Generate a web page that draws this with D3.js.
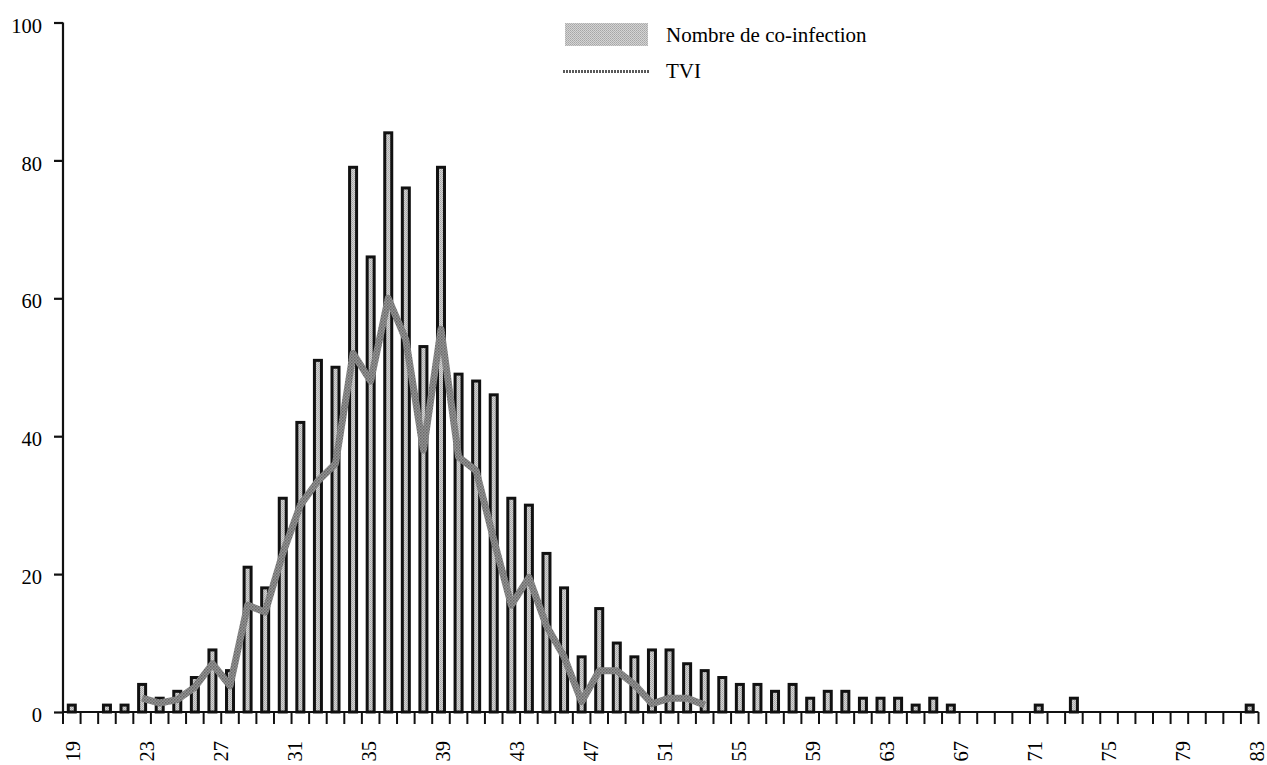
<!DOCTYPE html>
<html>
<head>
<meta charset="utf-8">
<script src="https://cdn.jsdelivr.net/npm/d3@7"></script>
<style>
  html, body { margin: 0; padding: 0; background: #fff; }
  svg { display: block; }
  text { font-family: "Liberation Serif", "DejaVu Serif", serif; fill: #000; }
</style>
</head>
<body>
<svg id="chart" width="1267" height="765"></svg>
<script>
// ---- data ----
const categories = [19,20,21,22,23,24,25,26,27,28,29,30,31,32,33,34,35,36,37,38,39,40,41,42,43,44,45,46,47,48,49,50,51,52,53,54,55,56,57,58,59,60,61,62,63,64,65,66,67,68,69,70,71,72,73,74,75,76,77,78,79,80,81,82,83,84,85,86];
const coinfection = [1,0,1,1,4,2,3,5,9,6,21,18,31,42,51,50,79,66,84,76,53,79,49,48,46,31,30,23,18,8,15,10,8,9,9,7,6,5,4,4,3,4,2,3,3,2,2,2,1,2,1,0,0,0,0,1,0,2,0,0,0,0,0,0,0,0,0,1];
const tviCategories = [23,24,25,26,27,28,29,30,31,32,33,34,35,36,37,38,39,40,41,42,43,44,45,46,47,48,49,50,51,52,53,54,55];
const tvi = [2,1.3,1.8,3.6,7,3.8,15.5,14.5,23,30,33.5,36,52,48,60,54,38,55.5,37,35,25,15.5,19.5,12.5,8,1.5,6,6,4,1.2,2,2,1];
const xTickLabels = ["19","23","27","31","35","39","43","47","51","55","59","63","67","71","75","79","83"];
const yTicks = [0,20,40,60,80,100];
const seriesNames = ["Nombre de co-infection","TVI"];

// ---- setup ----
const svg = d3.select("#chart");
const defs = svg.append("defs");

const barPat = defs.append("pattern").attr("id","barPat")
  .attr("width",2).attr("height",2).attr("patternUnits","userSpaceOnUse");
barPat.append("rect").attr("width",2).attr("height",2).attr("fill","#d4d4d4");
barPat.append("rect").attr("width",1).attr("height",1).attr("fill","#a6a6a6");
barPat.append("rect").attr("x",1).attr("y",1).attr("width",1).attr("height",1).attr("fill","#b2b2b2");

const linePat = defs.append("pattern").attr("id","linePat")
  .attr("width",3).attr("height",3).attr("patternUnits","userSpaceOnUse");
linePat.append("rect").attr("width",3).attr("height",3).attr("fill","#959595");
linePat.append("rect").attr("width",1.5).attr("height",1.5).attr("fill","#666");
linePat.append("rect").attr("x",1.5).attr("y",1.5).attr("width",1.5).attr("height",1.5).attr("fill","#747474");

const x = d3.scaleBand().domain(categories).range([63, 1258.5]).paddingInner(0).paddingOuter(0);
const xLab = d3.scalePoint().domain(xTickLabels).range([72, 1256]);
const y = d3.scaleLinear().domain([0,100]).range([712, 22.5]);
const barW = 7;

// bars
svg.append("g").selectAll("rect").data(coinfection.map((v,i)=>({c:categories[i],v})).filter(d=>d.v>0))
  .join("rect")
  .attr("x", d => x(d.c) + x.bandwidth()/2 - barW/2)
  .attr("y", d => y(d.v))
  .attr("width", barW)
  .attr("height", d => y(0) - y(d.v))
  .attr("fill","url(#barPat)")
  .attr("stroke","#111")
  .attr("stroke-width",3);

// TVI line
const line = d3.line()
  .x((d,i) => x(tviCategories[i]) + x.bandwidth()/2)
  .y(d => y(d));
svg.append("path").datum(tvi)
  .attr("d", line)
  .attr("fill","none")
  .attr("stroke","url(#linePat)")
  .attr("stroke-width",7)
  .attr("stroke-linejoin","round");

// y axis
const yAxis = d3.axisLeft(y).tickValues(yTicks).tickSize(9).tickPadding(12).tickFormat(d3.format("d"));
const gy = svg.append("g").attr("transform","translate(63,0)").call(yAxis);
gy.select(".domain").attr("stroke","#111").attr("stroke-width",2.2).attr("d","M0,22.5V712");
gy.selectAll(".tick line").attr("stroke","#111").attr("stroke-width",2.2);
gy.selectAll(".tick text").attr("font-size",20.5).attr("dy","0.47em")
  .style("font-family","'Liberation Serif', serif").attr("fill","#000");

// x axis: ticks at band boundaries
const boundaries = categories.map(c => x(c)).concat([x.range()[1]]);
const xTicksG = svg.append("g");
xTicksG.append("line").attr("x1",63).attr("x2",x.range()[1]).attr("y1",y(0)).attr("y2",y(0))
  .attr("stroke","#111").attr("stroke-width",2.2);
xTicksG.selectAll("line.tk").data(boundaries).join("line").attr("class","tk")
  .attr("x1",d=>d).attr("x2",d=>d).attr("y1",y(0)).attr("y2",y(0)+12)
  .attr("stroke","#111").attr("stroke-width",2);

// x labels
const xAxisLab = d3.axisBottom(xLab).tickSize(0).tickPadding(0);
const gx = svg.append("g").attr("transform","translate(0,741)").call(xAxisLab);
gx.select(".domain").remove();
gx.selectAll(".tick text")
  .attr("font-size",20.5)
  .style("font-family","'Liberation Serif', serif")
  .attr("fill","#000")
  .attr("text-anchor","end")
  .attr("transform","rotate(-90)")
  .attr("x",0).attr("y",0).attr("dy","0.35em");

// legend
const lg = svg.append("g");
lg.append("rect").attr("x",565).attr("y",23).attr("width",83).attr("height",23).attr("fill","url(#barPat)");
lg.append("text").attr("x",666).attr("y",41.5).attr("font-size",21).text(seriesNames[0]);
lg.append("line").attr("x1",563).attr("x2",650).attr("y1",71.5).attr("y2",71.5)
  .attr("stroke","#5a5a5a").attr("stroke-width",3).attr("stroke-dasharray","2,1");
lg.append("text").attr("x",666).attr("y",78).attr("font-size",21).text(seriesNames[1]);
</script>
</body>
</html>
